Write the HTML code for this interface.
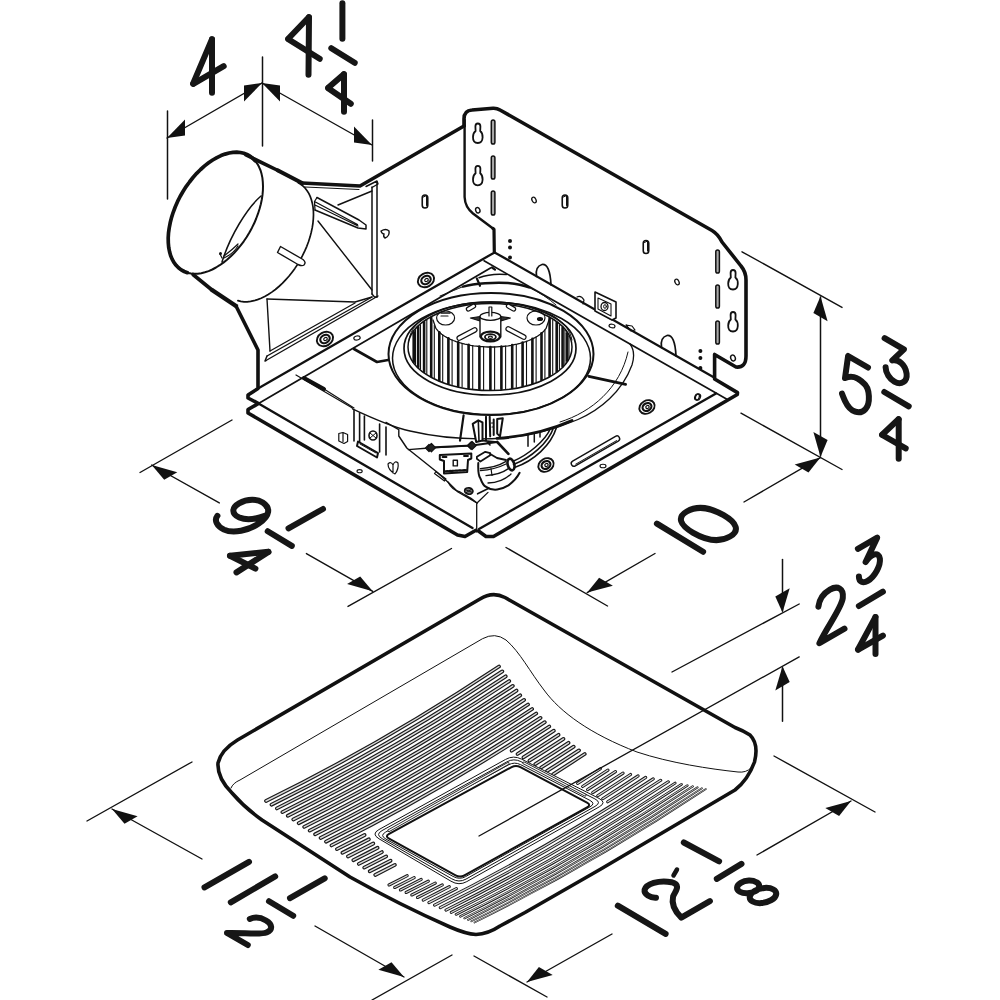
<!DOCTYPE html>
<html><head><meta charset="utf-8"><title>Fan dimensions</title>
<style>html,body{margin:0;padding:0;background:#fff;}svg{display:block;}</style></head>
<body><svg width="1000" height="1000" viewBox="0 0 1000 1000">
<rect width="1000" height="1000" fill="#fff"/>
<g stroke="#111" fill="none" stroke-linecap="round" stroke-linejoin="round">
<line x1="167.5" y1="111" x2="167.5" y2="199" stroke-width="1.5" />
<line x1="262.5" y1="57" x2="262.5" y2="146" stroke-width="1.5" />
<line x1="372.5" y1="120" x2="372.5" y2="161" stroke-width="1.5" />
<line x1="167" y1="138" x2="262" y2="83" stroke-width="1.4" />
<polygon points="167.0,138.0 185.0,135.6 185.0,119.6" fill="#111" stroke="none"/>
<polygon points="262.0,83.0 244.0,101.4 244.0,85.4" fill="#111" stroke="none"/>
<line x1="262" y1="83" x2="372" y2="145" stroke-width="1.4" />
<polygon points="262.0,83.0 280.0,101.4 280.0,85.4" fill="#111" stroke="none"/>
<polygon points="372.0,145.0 354.0,142.6 354.0,126.6" fill="#111" stroke="none"/>
<line x1="742" y1="251.8" x2="842" y2="307.4" stroke-width="1.4" />
<line x1="741" y1="413.2" x2="842" y2="469.5" stroke-width="1.4" />
<line x1="820.5" y1="297" x2="820.5" y2="456" stroke-width="1.5" />
<polygon points="820.5,296.2 827.6,321.3 813.4,313.1" fill="#111" stroke="none"/>
<polygon points="820.5,457.0 827.6,440.1 813.4,431.9" fill="#111" stroke="none"/>
<line x1="506" y1="547.5" x2="607.5" y2="606" stroke-width="1.4" />
<line x1="587.2" y1="592.6" x2="655" y2="553.5" stroke-width="1.4" />
<polygon points="587.2,592.6 612.9,585.8 599.1,577.8" fill="#111" stroke="none"/>
<line x1="744" y1="502" x2="820.4" y2="457.6" stroke-width="1.4" />
<polygon points="820.4,457.6 808.5,472.5 794.7,464.5" fill="#111" stroke="none"/>
<line x1="232" y1="420" x2="140" y2="472.5" stroke-width="1.4" />
<line x1="451.5" y1="548.5" x2="348" y2="606.4" stroke-width="1.4" />
<line x1="151.7" y1="465" x2="219.3" y2="502.9" stroke-width="1.4" />
<polygon points="151.7,465.0 177.3,472.2 164.2,479.8" fill="#111" stroke="none"/>
<line x1="306.4" y1="553.6" x2="372.7" y2="591.3" stroke-width="1.4" />
<polygon points="372.7,591.3 360.2,576.5 347.1,584.1" fill="#111" stroke="none"/>
<line x1="672" y1="672" x2="799.2" y2="604" stroke-width="1.4" />
<line x1="782.5" y1="559.6" x2="782.5" y2="611" stroke-width="1.5" />
<polygon points="782.5,612.4 789.7,588.2 775.3,596.5" fill="#111" stroke="none"/>
<line x1="782.5" y1="721.3" x2="782.5" y2="668" stroke-width="1.5" />
<polygon points="782.5,666.3 789.7,682.1 775.3,690.4" fill="#111" stroke="none"/>
<line x1="192" y1="762" x2="87" y2="821" stroke-width="1.4" />
<line x1="452" y1="955" x2="372" y2="1000" stroke-width="1.4" />
<line x1="112" y1="809" x2="202" y2="859" stroke-width="1.4" />
<polygon points="112.0,809.0 137.6,816.2 124.5,823.8" fill="#111" stroke="none"/>
<line x1="315" y1="926" x2="404" y2="977" stroke-width="1.4" />
<polygon points="404.0,977.0 391.5,962.2 378.4,969.8" fill="#111" stroke="none"/>
<line x1="774" y1="756" x2="875" y2="812" stroke-width="1.4" />
<line x1="474" y1="956" x2="547" y2="997" stroke-width="1.4" />
<line x1="851" y1="801" x2="757" y2="855" stroke-width="1.4" />
<polygon points="851.0,801.0 839.1,815.9 825.3,807.9" fill="#111" stroke="none"/>
<line x1="612" y1="934" x2="527" y2="982" stroke-width="1.4" />
<polygon points="527.0,982.0 552.7,975.1 538.9,967.1" fill="#111" stroke="none"/>
<path d="M298.2,182.8 L300.7,184.3 L303.1,186.1 L305.2,188.2 L307.1,190.7 L308.8,193.4 L310.2,196.4 L311.4,199.7 L312.3,203.2 L313.0,206.9 L313.4,210.8 L313.5,214.9 L313.3,219.1 L312.9,223.5 L312.2,227.9 L311.2,232.5 L310.0,237.1 L308.5,241.7 L306.8,246.3 L304.8,250.9 L302.6,255.4 L300.3,259.8 L297.7,264.2 L294.9,268.4 L291.9,272.4 L288.9,276.3 L285.6,279.9 L282.3,283.4 L278.9,286.5 L275.4,289.5 L271.8,292.1 L268.2,294.5 L264.7,296.5 L261.1,298.2 L257.5,299.6 L254.0,300.7 L250.6,301.4 L247.2,301.8 L244.0,301.8 L240.8,301.4 L237.9,300.7" stroke-width="1.7" fill="none" />
<path d="M248.8,155.4 L251.4,157.1 L253.7,159.2 L255.8,161.6 L257.7,164.3 L259.2,167.3 L260.6,170.5 L261.6,174.1 L262.4,177.9 L262.8,181.9 L263.0,186.1 L262.9,190.4 L262.5,194.9 L261.8,199.5 L260.8,204.2 L259.5,209.0 L258.0,213.7 L256.2,218.5 L254.2,223.3 L251.9,227.9 L249.4,232.5 L246.7,237.0 L243.8,241.3 L240.7,245.4 L237.4,249.3 L234.1,253.1 L230.6,256.5 L227.0,259.7 L223.4,262.6 L219.7,265.2 L216.0,267.5 L212.3,269.5 L208.6,271.1 L204.9,272.3 L201.3,273.2 L197.8,273.7 L194.4,273.8 L191.2,273.6 L188.0,272.9 L185.1,271.9 L182.3,270.6 L179.8,268.9 L177.5,266.8 L175.4,264.4 L173.5,261.7 L172.0,258.7 L170.6,255.5 L169.6,251.9 L168.8,248.1 L168.4,244.1 L168.2,239.9 L168.3,235.6 L168.7,231.1 L169.4,226.5 L170.4,221.8 L171.7,217.0 L173.2,212.3 L175.0,207.5 L177.0,202.7 L179.3,198.1 L181.8,193.5 L184.5,189.0 L187.4,184.7 L190.5,180.6 L193.8,176.7 L197.1,172.9 L200.6,169.5 L204.2,166.3 L207.8,163.4 L211.5,160.8 L215.2,158.5 L218.9,156.5 L222.6,154.9 L226.3,153.7 L229.9,152.8 L233.4,152.3 L236.8,152.2 L240.0,152.4 L243.2,153.1 L246.1,154.1 L248.8,155.4 Z" stroke-width="2.0" fill="#fff" />
<path d="M187.4,272.7 L184.2,271.5 L181.2,269.9 L178.5,267.8 L176.1,265.3 L173.9,262.4 L172.1,259.1 L170.6,255.5 L169.5,251.5 L168.7,247.3 L168.3,242.8 L168.2,238.0 L168.5,233.1 L169.2,228.0 L170.2,222.8 L171.5,217.6 L173.2,212.3 L175.2,207.0 L177.5,201.7 L180.1,196.5 L183.0,191.5 L186.1,186.6 L189.5,182.0 L193.0,177.5 L196.7,173.3 L200.6,169.5 L204.6,165.9 L208.6,162.8 L212.7,160.0 L216.9,157.6 L221.0,155.6 L225.1,154.1 L229.1,153.0 L233.0,152.4 L236.8,152.2 L240.4,152.5 L243.8,153.3 L247.0,154.5 L250.0,156.1 L252.7,158.2 L255.1,160.7" stroke-width="3.7" fill="none" />
<path d="M261,196 C247,208 230,236 222,262" stroke-width="1.5" fill="none" />
<path d="M220,254 l2,4 M224,256 q8,-6 14,-12 M224,258 q9,-4 14,-12" stroke-width="1.2" fill="none" />
<circle cx="220.5" cy="253.5" r="1.5" fill="#111" stroke="none"/>
<path d="M246,155 L278,170.5" stroke-width="3.6" fill="none" />
<path d="M278,170.5 L302,183" stroke-width="4.2" fill="none" />
<path d="M302,183 L360,186 L464,126" stroke-width="3.6" fill="none" />
<path d="M305,187 L359,189.5" stroke-width="1.1" fill="none" />
<path d="M193,274.5 L212,290" stroke-width="3.6" fill="none" />
<path d="M212,290 L236,306" stroke-width="4.4" fill="none" />
<path d="M236,306 L250,334 L258,350 L258,388.5 L248,395 L248,398 L258.5,403.5 L248,409.5 L248,413 L457.5,535 L465,536.5 L475.5,530.5" stroke-width="3.6" fill="none" />
<path d="M280.5,246.5 L303,259.5 q3.5,3 1,5.5 q-2,1.5 -6,-0.5 L277.5,252.5 Z" stroke-width="1.4" fill="#fff" />
<path d="M372,187 L372,294" stroke-width="1.5" fill="none" />
<path d="M377,182 L377,297" stroke-width="1.5" fill="none" />
<path d="M366,186.5 L377,181 L378,184 L372,187.5" stroke-width="1.4" fill="none" />
<path d="M372,294 L374.5,297 L377,297" stroke-width="1.4" fill="none" />
<line x1="372" y1="191" x2="338" y2="205" stroke-width="1.4" />
<line x1="318" y1="221" x2="372" y2="290" stroke-width="1.4" />
<path d="M267,299 L355,302 L372,297" stroke-width="1.4" fill="none" />
<line x1="267" y1="299" x2="270" y2="351" stroke-width="1.4" />
<path d="M267,356 L372,297" stroke-width="1.4" fill="none" />
<path d="M266,360.5 L378,296" stroke-width="1.4" fill="none" />
<path d="M270,351 L355,303" stroke-width="1.3" fill="none" />
<path d="M267,356 L265,361 L266,360.5" stroke-width="1.5" fill="none" />
<path d="M317,197.5 L359,220 L366,225 L366,229 L358,228 L315,210" stroke-width="1.5" fill="#fff" />
<path d="M317,197.5 l-2.5,4 l43,23 M315,205 l43,21 M314.5,201.5 l0.5,8.5" stroke-width="1.3" fill="none" />
<path d="M381,231 q5,-3 8,0 q1,5 -4,7 q-2,-1 -1,-4 q-2,0 -3,-3 Z" stroke-width="1.4" fill="none" />
<path d="M464,126 L464,119 Q464,110.5 472,110 L493,108.2 Q497,108 500,110 L712,230.5 Q718,234 722,242 L741,266 Q746,272 746,280 L746,356 Q746,368 736,367 L714.6,354.5 L714.6,379 L737.5,392.6 L737.3,394.5 L493.5,536.5 L486,536.5 L478.5,531" stroke-width="3.6" fill="none" />
<path d="M464.6,120 L464.6,197 Q465,207 473,213.5 L493,228.5" stroke-width="2.4" fill="none" />
<path d="M493,228.5 L494,229.5 L494.3,252" stroke-width="3.2" fill="none" />
<path d="M475.40000000000003,126.5 Q475.40000000000003,123.5 477.8,123.5 Q480.40000000000003,123.5 480.40000000000003,126.5 L480.2,131.0 Q482.8,133.0 482.6,137.5 Q482.3,143.0 477.8,143.0 Q472.8,143.0 473.0,137.0 Q473.0,133.0 475.6,131.0 Z" stroke-width="1.8" fill="#fff" />
<path d="M475.40000000000003,168.8 Q475.40000000000003,165.8 477.8,165.8 Q480.40000000000003,165.8 480.40000000000003,168.8 L480.2,173.3 Q482.8,175.3 482.6,179.8 Q482.3,185.3 477.8,185.3 Q472.8,185.3 473.0,179.3 Q473.0,175.3 475.6,173.3 Z" stroke-width="1.8" fill="#fff" />
<rect x="491.3" y="120.0" width="3.6" height="24" rx="1.8" transform="rotate(0 493.1 132.0)" stroke-width="1.5" fill="#aaa"/>
<rect x="491.3" y="156.0" width="3.6" height="23" rx="1.8" transform="rotate(0 493.1 167.5)" stroke-width="1.5" fill="#aaa"/>
<rect x="491.3" y="191.0" width="3.6" height="24" rx="1.8" transform="rotate(0 493.1 203.0)" stroke-width="1.5" fill="#aaa"/>
<ellipse cx="477.8" cy="210.3" rx="2.1" ry="2.8" transform="rotate(-20 477.8 210.3)" stroke-width="1.4" fill="none" />
<circle cx="510" cy="241" r="2.0" fill="#111" stroke="none"/>
<circle cx="510" cy="247.5" r="2.0" fill="#111" stroke="none"/>
<circle cx="510" cy="257.5" r="2.0" fill="#111" stroke="none"/>
<path d="M730.6,273 Q730.6,270 733,270 Q735.6,270 735.6,273 L735.4,277.5 Q738,279.5 737.8,284 Q737.5,289.5 733,289.5 Q728,289.5 728.2,283.5 Q728.2,279.5 730.8,277.5 Z" stroke-width="1.8" fill="#fff" />
<path d="M730.6,315 Q730.6,312 733,312 Q735.6,312 735.6,315 L735.4,319.5 Q738,321.5 737.8,326 Q737.5,331.5 733,331.5 Q728,331.5 728.2,325.5 Q728.2,321.5 730.8,319.5 Z" stroke-width="1.8" fill="#fff" />
<rect x="715.8000000000001" y="250.0" width="3.6" height="23" rx="1.8" transform="rotate(0 717.6 261.5)" stroke-width="1.5" fill="#aaa"/>
<rect x="715.8000000000001" y="285.0" width="3.6" height="23" rx="1.8" transform="rotate(0 717.6 296.5)" stroke-width="1.5" fill="#aaa"/>
<rect x="715.8000000000001" y="321.0" width="3.6" height="23" rx="1.8" transform="rotate(0 717.6 332.5)" stroke-width="1.5" fill="#aaa"/>
<ellipse cx="733" cy="358" rx="2.3" ry="3" transform="rotate(-20 733 358)" stroke-width="1.4" fill="none" />
<circle cx="700.4" cy="351" r="2.0" fill="#111" stroke="none"/>
<circle cx="700.4" cy="358" r="2.0" fill="#111" stroke="none"/>
<circle cx="700.4" cy="368" r="2.0" fill="#111" stroke="none"/>
<rect x="422.25" y="195.0" width="5.5" height="13" rx="2.75" transform="rotate(0 425 201.5)" stroke-width="1.6" fill="#fff"/>
<rect x="562.25" y="195.0" width="5.5" height="13" rx="2.75" transform="rotate(0 565 201.5)" stroke-width="1.6" fill="#fff"/>
<rect x="643.25" y="240.5" width="5.5" height="13" rx="2.75" transform="rotate(0 646 247)" stroke-width="1.6" fill="#fff"/>
<path d="M423.5,197 l3,-1.5 v10" stroke-width="1.0" fill="none" />
<path d="M563.5,197 l3,-1.5 v10" stroke-width="1.0" fill="none" />
<path d="M644.5,242.5 l3,-1.5 v10" stroke-width="1.0" fill="none" />
<ellipse cx="534" cy="200" rx="2" ry="3" transform="rotate(-25 534 200)" stroke-width="1.3" fill="none" />
<ellipse cx="677" cy="282" rx="2" ry="3" transform="rotate(-25 677 282)" stroke-width="1.3" fill="none" />
<ellipse cx="426" cy="280" rx="8.5" ry="6.800000000000001" transform="rotate(-30 426 280)" stroke-width="1.9" fill="#fff" />
<ellipse cx="426" cy="280" rx="4.93" ry="3.91" transform="rotate(-30 426 280)" stroke-width="2.2" fill="none" />
<ellipse cx="426.5" cy="280" rx="1.87" ry="1.53" transform="rotate(-30 426.5 280)" stroke-width="1.2" fill="none" />
<ellipse cx="325" cy="339" rx="8.5" ry="6.800000000000001" transform="rotate(-30 325 339)" stroke-width="1.9" fill="#fff" />
<ellipse cx="325" cy="339" rx="4.93" ry="3.91" transform="rotate(-30 325 339)" stroke-width="2.2" fill="none" />
<ellipse cx="325.5" cy="339" rx="1.87" ry="1.53" transform="rotate(-30 325.5 339)" stroke-width="1.2" fill="none" />
<ellipse cx="357" cy="338" rx="3.2" ry="2" transform="rotate(-10 357 338)" stroke-width="1.2" fill="none" />
<path d="M258,388.5 L494.6,252.4 L715,378" stroke-width="2.3" fill="none" />
<path d="M258.5,403.5 L490.5,268" stroke-width="1.7" fill="none" />
<path d="M484,260.8 L726.5,399" stroke-width="1.7" fill="none" />
<path d="M536.5,276.5 q-1.5,-10 5.5,-12 q8,-1 9,20.5" stroke-width="1.7" fill="none" />
<path d="M661.5,347.5 q-1.5,-10 5.5,-12 q8,-1 9,20.5" stroke-width="1.7" fill="none" />
<ellipse cx="697" cy="397" rx="2.2" ry="3.2" transform="rotate(20 697 397)" stroke-width="1.2" fill="none" />
<path d="M258.5,403.5 L472.5,528" stroke-width="2.4" fill="none" />
<line x1="476.7" y1="504" x2="476.7" y2="532" stroke-width="1.3" />
<path d="M479,529 L716,393.5" stroke-width="2.4" fill="none" />
<path d="M352.4,408.8 C372,418 392,427 410,431 C440,438 475,440 504,438 C530,436 556,429 578,419.5 C600,410 622,392 632,365 Q636,352 630,344" stroke-width="1.3" fill="none" />
<path d="M560,422 C592,412 620,388 628,352" stroke-width="1.0" fill="none" />
<path d="M497,438.4 C525,436.5 548,431 572,420.5" stroke-width="2.9" fill="none" />
<path d="M354,349 L377,362 L388,360" stroke-width="2.6" fill="none" />
<path d="M304,378 L324,389" stroke-width="4.0" fill="none" />
<path d="M324,389 L354,408" stroke-width="1.2" fill="none" />
<path d="M296,375 L352.4,408" stroke-width="1.2" fill="none" />
<path d="M386,422.4 L398.8,429.6 L398.8,436 L406.8,448 L435.6,471 L448.4,482.4 L458,492 L477,503" stroke-width="1.4" fill="none" />
<path d="M477,503 L488,492.4" stroke-width="1.3" fill="none" />
<path d="M408.4,449.6 L429,448 L470.8,445.6" stroke-width="1.4" fill="none" />
<path d="M425.5,448 l3.5,-3.5 l3.5,3.5 l-3.5,3.5 Z" stroke-width="1.2" fill="#333" />
<path d="M467.3,445.6 l3.5,-3.5 l3.5,3.5 l-3.5,3.5 Z" stroke-width="1.2" fill="#333" />
<ellipse cx="491" cy="354" rx="102.5" ry="61" transform="rotate(0 491 354)" stroke-width="2.0" fill="#fff" />
<ellipse cx="491.5" cy="358.3" rx="99" ry="56.3" transform="rotate(0 491.5 358.3)" stroke-width="1.5" fill="none" />
<path d="M588.8,376.4 L625.6,384.4" stroke-width="2.8" fill="none" />
<ellipse cx="490" cy="348.5" rx="86" ry="46.5" transform="rotate(0 490 348.5)" stroke-width="1.7" fill="#fff" />
<ellipse cx="490" cy="347" rx="82" ry="43.5" transform="rotate(0 490 347)" stroke-width="1.5" fill="none" />
<line x1="413.7" y1="332.1" x2="413.7" y2="361.9" stroke-width="2.6" />
<line x1="415.5" y1="329.8" x2="415.5" y2="364.2" stroke-width="1.1" />
<line x1="418.2" y1="327.0" x2="418.2" y2="367.0" stroke-width="2.6" />
<line x1="420.5" y1="324.9" x2="420.5" y2="369.1" stroke-width="1.1" />
<line x1="424.1" y1="322.1" x2="424.1" y2="371.9" stroke-width="2.6" />
<line x1="426.8" y1="320.3" x2="426.8" y2="373.7" stroke-width="1.1" />
<line x1="431.2" y1="317.7" x2="431.2" y2="376.3" stroke-width="2.6" />
<line x1="434.3" y1="325.6" x2="434.3" y2="377.9" stroke-width="1.1" />
<line x1="439.3" y1="332.3" x2="439.3" y2="380.2" stroke-width="2.6" />
<line x1="442.7" y1="335.0" x2="442.7" y2="381.5" stroke-width="1.1" />
<line x1="448.4" y1="338.3" x2="448.4" y2="383.5" stroke-width="2.6" />
<line x1="452.1" y1="340.0" x2="452.1" y2="384.6" stroke-width="1.1" />
<line x1="458.2" y1="342.3" x2="458.2" y2="386.1" stroke-width="2.6" />
<line x1="462.1" y1="343.4" x2="462.1" y2="386.9" stroke-width="1.1" />
<line x1="468.6" y1="344.9" x2="468.6" y2="388.0" stroke-width="2.6" />
<line x1="472.7" y1="345.6" x2="472.7" y2="388.5" stroke-width="1.1" />
<line x1="479.4" y1="346.5" x2="479.4" y2="389.1" stroke-width="2.6" />
<line x1="483.6" y1="346.8" x2="483.6" y2="389.4" stroke-width="1.1" />
<line x1="490.4" y1="347.0" x2="490.4" y2="389.5" stroke-width="2.6" />
<line x1="494.6" y1="346.9" x2="494.6" y2="389.4" stroke-width="1.1" />
<line x1="501.4" y1="346.6" x2="501.4" y2="389.1" stroke-width="2.6" />
<line x1="505.6" y1="346.1" x2="505.6" y2="388.7" stroke-width="1.1" />
<line x1="512.2" y1="345.1" x2="512.2" y2="387.9" stroke-width="2.6" />
<line x1="516.3" y1="344.3" x2="516.3" y2="387.2" stroke-width="1.1" />
<line x1="522.6" y1="342.6" x2="522.6" y2="385.9" stroke-width="2.6" />
<line x1="526.5" y1="341.3" x2="526.5" y2="385.0" stroke-width="1.1" />
<line x1="532.4" y1="338.9" x2="532.4" y2="383.2" stroke-width="2.6" />
<line x1="536.1" y1="337.0" x2="536.1" y2="382.0" stroke-width="1.1" />
<line x1="541.5" y1="333.3" x2="541.5" y2="379.9" stroke-width="2.6" />
<line x1="544.9" y1="330.0" x2="544.9" y2="378.3" stroke-width="1.1" />
<line x1="549.6" y1="318.1" x2="549.6" y2="375.9" stroke-width="2.6" />
<line x1="552.7" y1="320.0" x2="552.7" y2="374.0" stroke-width="1.1" />
<line x1="556.7" y1="322.7" x2="556.7" y2="371.3" stroke-width="2.6" />
<line x1="559.4" y1="324.8" x2="559.4" y2="369.2" stroke-width="1.1" />
<line x1="562.6" y1="327.7" x2="562.6" y2="366.3" stroke-width="2.6" />
<line x1="564.9" y1="330.3" x2="564.9" y2="363.7" stroke-width="1.1" />
<line x1="567.1" y1="333.2" x2="567.1" y2="360.8" stroke-width="2.6" />
<line x1="569.0" y1="336.3" x2="569.0" y2="357.7" stroke-width="1.1" />
<path d="M433.0,320.0 L435.9,328.4 L438.8,331.8 L441.7,334.2 L444.6,336.2 L447.5,337.9 L450.4,339.3 L453.3,340.5 L456.2,341.6 L459.1,342.5 L462.0,343.4 L464.9,344.1 L467.8,344.7 L470.7,345.3 L473.6,345.8 L476.5,346.1 L479.4,346.5 L482.3,346.7 L485.2,346.9 L488.1,347.0 L491.0,347.0 L493.9,347.0 L496.8,346.9 L499.7,346.7 L502.6,346.5 L505.5,346.1 L508.4,345.8 L511.3,345.3 L514.2,344.7 L517.1,344.1 L520.0,343.4 L522.9,342.5 L525.8,341.6 L528.7,340.5 L531.6,339.3 L534.5,337.9 L537.4,336.2 L540.3,334.2 L543.2,331.8 L546.1,328.4 L549.0,320.0" stroke-width="1.3" fill="none" />
<path d="M409,340 C412,318 440,304 490,302.5 C540,303 568,318 572,340" stroke-width="1.0" fill="none" />
<ellipse cx="445.6" cy="318" rx="9" ry="7" transform="rotate(0 445.6 318)" stroke-width="1.2" fill="none" />
<ellipse cx="536" cy="318" rx="9" ry="7" transform="rotate(0 536 318)" stroke-width="1.2" fill="none" />
<ellipse cx="540" cy="319" rx="2.5" ry="1.5" transform="rotate(0 540 319)" stroke-width="1.2" fill="#111" />
<path d="M441,313 L450,313" stroke-width="1.5" fill="none" />
<path d="M441,316 L448,316" stroke-width="1.2" fill="none" />
<rect x="469.0" y="302.6" width="4" height="10" rx="2.0" transform="rotate(60 471 307.6)" stroke-width="1.2" fill="#fff"/>
<rect x="509.0" y="302.6" width="4" height="10" rx="2.0" transform="rotate(-60 511 307.6)" stroke-width="1.2" fill="#fff"/>
<rect x="464.75" y="323.0" width="4.5" height="22" rx="2.25" transform="rotate(62 467 334)" stroke-width="1.2" fill="#fff"/>
<rect x="513.75" y="322.0" width="4.5" height="22" rx="2.25" transform="rotate(-62 516 333)" stroke-width="1.2" fill="#fff"/>
<path d="M470.4,318 l9.6,-1.5 v4.5 Z" stroke-width="1.2" fill="#333" />
<path d="M510.4,318 l-9.6,-1.5 v4.5 Z" stroke-width="1.2" fill="#333" />
<path d="M480,316.4 L480,337 Q490.4,345 500.8,337 L500.8,316.4" stroke-width="1.4" fill="#fff" />
<ellipse cx="490.4" cy="316.4" rx="10.4" ry="4" transform="rotate(0 490.4 316.4)" stroke-width="1.3" fill="#fff" />
<path d="M489,316 v-9 h2.8 v9" stroke-width="1.2" fill="#fff" />
<ellipse cx="490.4" cy="336.5" rx="9.5" ry="4.8" transform="rotate(0 490.4 336.5)" stroke-width="2.2" fill="#fff" />
<ellipse cx="490.4" cy="337" rx="5.5" ry="2.8" transform="rotate(0 490.4 337)" stroke-width="1.8" fill="none" />
<ellipse cx="490.4" cy="337.2" rx="2" ry="1.1" transform="rotate(0 490.4 337.2)" stroke-width="1.2" fill="none" />
<path d="M463,286.6 C475,283.5 495,282 508,283 C518,284 524,285.5 529,287.5" stroke-width="2.4" fill="none" />
<path d="M479,277.8 C486,275 498,273.8 506.5,274.5" stroke-width="1.5" fill="none" />
<path d="M476.8,278.4 L480,285.8" stroke-width="2.2" fill="none" />
<path d="M492,267.5 l3,2.2" stroke-width="2.2" fill="none" />
<path d="M440,296 Q455,290 463,286.6" stroke-width="1.0" fill="none" />
<path d="M529,287.5 Q545,295 556,305" stroke-width="1.0" fill="none" />
<path d="M595,292 L595,311 L612,320 L616,318 L616,302 Z" stroke-width="1.6" fill="#fff" />
<path d="M598,298 L598,309 L611,316 L611,304 Z" stroke-width="1.1" fill="none" />
<ellipse cx="604.5" cy="306.5" rx="3.5" ry="4" transform="rotate(0 604.5 306.5)" stroke-width="1.3" fill="none" />
<ellipse cx="605" cy="306.5" rx="1.4" ry="1.8" transform="rotate(0 605 306.5)" stroke-width="1.0" fill="none" />
<ellipse cx="612" cy="326" rx="3" ry="1.8" transform="rotate(10 612 326)" stroke-width="1.2" fill="none" />
<path d="M626,325 l6,1 l3,4 l-4,1 Z" stroke-width="1.2" fill="none" />
<path d="M577,297 q4,-2 7,3 l-1,4" stroke-width="1.2" fill="none" />
<ellipse cx="647" cy="407" rx="8" ry="6.4" transform="rotate(-30 647 407)" stroke-width="1.9" fill="#fff" />
<ellipse cx="647" cy="407" rx="4.64" ry="3.68" transform="rotate(-30 647 407)" stroke-width="2.2" fill="none" />
<ellipse cx="647.5" cy="407" rx="1.76" ry="1.44" transform="rotate(-30 647.5 407)" stroke-width="1.2" fill="none" />
<ellipse cx="546" cy="465" rx="8" ry="6.4" transform="rotate(-30 546 465)" stroke-width="1.9" fill="#fff" />
<ellipse cx="546" cy="465" rx="4.64" ry="3.68" transform="rotate(-30 546 465)" stroke-width="2.2" fill="none" />
<ellipse cx="546.5" cy="465" rx="1.76" ry="1.44" transform="rotate(-30 546.5 465)" stroke-width="1.2" fill="none" />
<rect x="568" y="448" width="55" height="5.5" rx="2.75" transform="rotate(-30 596 451)" stroke-width="1.4" fill="#fff"/>
<line x1="572" y1="452.3" x2="619" y2="452.3" transform="rotate(-30 596 451)" stroke-width="1.0"/>
<ellipse cx="698" cy="397" rx="2.4" ry="3.2" transform="rotate(25 698 397)" stroke-width="1.2" fill="none" />
<ellipse cx="603" cy="466" rx="3" ry="1.8" transform="rotate(0 603 466)" stroke-width="1.1" fill="none" />
<path d="M354,410.5 L354,441 M359.6,413 L359.6,444 M364.4,416 L364.4,440 M379.6,424 L379.6,452 M386,427 L386,455" stroke-width="1.6" fill="none" />
<path d="M358,441.5 L378,453 L377,457.5 L357,446 Z" stroke-width="2.0" fill="#fff" />
<path d="M360,444 L376,453" stroke-width="1.0" fill="none" />
<ellipse cx="373" cy="435.5" rx="4" ry="4.5" transform="rotate(0 373 435.5)" stroke-width="1.6" fill="none" />
<path d="M370,433 l6,5 M370,438 l6,-5" stroke-width="1.0" fill="none" />
<path d="M338.8,433.5 L338.8,441 L344,443.5 L347.6,441.5 L347.6,434.5 L343,432.5 Z M343,432.5 v9" stroke-width="1.2" fill="none" />
<path d="M388,464 q3,-3 5,1 q2,-5 5,-2 q1,6 -3,11 q-7,-4 -7,-10 Z M393,465 v8" stroke-width="1.2" fill="none" />
<ellipse cx="359.6" cy="471.2" rx="2.6" ry="1.6" transform="rotate(0 359.6 471.2)" stroke-width="1.1" fill="none" />
<path d="M439.8,455 L471.3,453.4 L471.3,458.5 L468,460 L467.2,472 L444,473.5 L444,461 L439.8,459.5 Z" stroke-width="2.0" fill="#fff" />
<path d="M445.5,471.3 L466,470" stroke-width="2.2" fill="none" stroke-dasharray="2 1.4"/>
<path d="M453.2,460.3 h4.2 v5.6 h-4.2 Z" stroke-width="1.4" fill="none" />
<path d="M442.5,457 h4 M464,456 h4" stroke-width="1.8" fill="none" />
<path d="M436,471.5 l10,7.5 l-1.5,2 l-10,-7.5 Z" stroke-width="1.2" fill="none" />
<path d="M463.6,415.4 L460,440.6" stroke-width="2.2" fill="none" />
<path d="M472.7,423.8 L478.3,420.3 L482.5,422.4 L482.5,440.6 L476.2,442 Z" stroke-width="2.0" fill="#fff" />
<path d="M478.3,420.8 L479,440.6" stroke-width="1.6" fill="none" />
<path d="M486,416.8 L486,440.6 M489.7,416.8 L490.2,436.4 M493.7,419.6 L493.7,435" stroke-width="2.0" fill="none" />
<path d="M497.2,418.9 L502.8,418.2 L500,436.4 L497.2,433.6 Z" stroke-width="2.0" fill="#fff" />
<path d="M491.5,423 l1.5,0 M492,427 l1.5,0" stroke-width="1.2" fill="none" />
<path d="M430,447.6 L472,445.5 L497.2,442" stroke-width="2.0" fill="none" />
<path d="M497.2,442 L508.4,453.9" stroke-width="2.6" fill="none" />
<path d="M482.5,440.6 L497.2,442 M486,440.6 L490,445" stroke-width="1.6" fill="none" />
<path d="M427.2,447.6 l4.2,-4.2 l4.2,4.2 l-4.2,4.2 Z" stroke-width="1.2" fill="#222" />
<path d="M467.8,445.5 l4.2,-4.2 l4.2,4.2 l-4.2,4.2 Z" stroke-width="1.2" fill="#222" />
<path d="M476.9,456.7 L485.3,451.8 L490.2,453.2 L490.2,455.3 L480.4,461.6 L476.9,458.8 Z" stroke-width="1.8" fill="#fff" />
<path d="M490.2,454 L497,458 L506,460" stroke-width="1.8" fill="none" />
<path d="M478.3,463 C478,470 478.5,476 480.4,478.4 C482,483 484,486 486,486.8 C490,489.5 494,490 497.2,489.6 C502,489 505,487.5 508.4,485.4 C513,482 517,478 519.6,472.8" stroke-width="2.0" fill="#fff" />
<path d="M480.4,468.6 C490,468 500,465 505.6,461.6 M480.4,470.5 C490,470 500,467 506,464" stroke-width="1.3" fill="none" />
<path d="M486,475.6 C495,475 503,472.5 508.4,468.6 M488,483 C497,483 506,479 511,474" stroke-width="1.3" fill="none" />
<path d="M491,468.5 l1,7" stroke-width="1.2" fill="none" />
<ellipse cx="511" cy="464.5" rx="3.3" ry="6" transform="rotate(-15 511 464.5)" stroke-width="2.6" fill="#fff" />
<path d="M512.6,461.5 C528,455 545,441 550.5,428.5 M513.5,464.5 C531,458 548,443 553.5,428 M514.5,467.5 C534,461 551,445 556.5,427.5" stroke-width="1.6" fill="none" />
<path d="M528,435 L528,446.2 M534.3,434 L534.3,442 M540,432.5 L540,437" stroke-width="1.5" fill="none" />
<ellipse cx="468.8" cy="491" rx="4.2" ry="3.2" transform="rotate(10 468.8 491)" stroke-width="1.6" fill="#777" />
<path d="M465,489.5 l7.5,3 M466,492.8 l5.5,-3.5" stroke-width="1.0" fill="none" />
<path d="M448,482 q4,8 12,10 l5,3 q6,3 12,8" stroke-width="1.4" fill="none" />
<path d="M477.6,493.8 L488.8,488.2" stroke-width="1.6" fill="none" />
<path d="M480,599 L237.5,740 Q221,750 218,763 Q217,778 232,793 Q245,808 262,820 L350,877 Q400,905 450,927 Q466,934 476,934.5 Q488,934 500,926 L525,912.5 L600,869.5 L735,790 Q748,780 754.5,762 Q759,744 750,735 Q744,731 735,727.5 L505,597.5 Q492.5,591 480,599 Z" stroke-width="3.6" fill="#fff" />
<path d="M231,788 Q233,783 240,780 L482.5,638.7 Q495,632 506,640 C520,652 530,672 544,690 C560,712 590,734 637,752 C670,763 710,769 738,772 Q746,773 751,768" stroke-width="1.0" fill="none" />
<path d="M266.0,801.0 Q382.5,743.7 499.0,666.5" stroke="#1a1a1a" stroke-width="3.80"/>
<path d="M266.0,801.0 Q382.5,743.7 499.0,666.5" stroke="#dcdcdc" stroke-width="1.44"/>
<path d="M271.5,804.7 Q386.9,747.8 502.3,671.4" stroke="#1a1a1a" stroke-width="3.80"/>
<path d="M271.5,804.7 Q386.9,747.8 502.3,671.4" stroke="#dcdcdc" stroke-width="1.44"/>
<path d="M276.9,808.4 Q391.3,751.9 505.7,676.3" stroke="#1a1a1a" stroke-width="3.80"/>
<path d="M276.9,808.4 Q391.3,751.9 505.7,676.3" stroke="#dcdcdc" stroke-width="1.44"/>
<path d="M282.4,812.1 Q395.8,756.0 509.2,681.1" stroke="#1a1a1a" stroke-width="3.80"/>
<path d="M282.4,812.1 Q395.8,756.0 509.2,681.1" stroke="#dcdcdc" stroke-width="1.44"/>
<path d="M287.8,815.8 Q400.3,760.1 512.8,685.9" stroke="#1a1a1a" stroke-width="3.80"/>
<path d="M287.8,815.8 Q400.3,760.1 512.8,685.9" stroke="#dcdcdc" stroke-width="1.44"/>
<path d="M293.3,819.5 Q404.9,764.2 516.5,690.6" stroke="#1a1a1a" stroke-width="3.80"/>
<path d="M293.3,819.5 Q404.9,764.2 516.5,690.6" stroke="#dcdcdc" stroke-width="1.44"/>
<path d="M298.7,823.2 Q409.5,768.2 520.2,695.3" stroke="#1a1a1a" stroke-width="3.80"/>
<path d="M298.7,823.2 Q409.5,768.2 520.2,695.3" stroke="#dcdcdc" stroke-width="1.44"/>
<path d="M304.2,826.9 Q414.1,772.3 524.1,699.9" stroke="#1a1a1a" stroke-width="3.80"/>
<path d="M304.2,826.9 Q414.1,772.3 524.1,699.9" stroke="#dcdcdc" stroke-width="1.44"/>
<path d="M309.7,830.6 Q418.8,776.3 528.0,704.5" stroke="#1a1a1a" stroke-width="3.80"/>
<path d="M309.7,830.6 Q418.8,776.3 528.0,704.5" stroke="#dcdcdc" stroke-width="1.44"/>
<path d="M315.1,834.3 Q423.6,780.3 532.1,709.0" stroke="#1a1a1a" stroke-width="3.80"/>
<path d="M315.1,834.3 Q423.6,780.3 532.1,709.0" stroke="#dcdcdc" stroke-width="1.44"/>
<path d="M320.6,838.0 Q428.4,784.2 536.2,713.5" stroke="#1a1a1a" stroke-width="3.80"/>
<path d="M320.6,838.0 Q428.4,784.2 536.2,713.5" stroke="#dcdcdc" stroke-width="1.44"/>
<path d="M326.0,841.7 Q433.3,788.2 540.5,717.9" stroke="#1a1a1a" stroke-width="3.80"/>
<path d="M326.0,841.7 Q433.3,788.2 540.5,717.9" stroke="#dcdcdc" stroke-width="1.44"/>
<path d="M331.5,845.4 Q438.2,792.1 544.8,722.2" stroke="#1a1a1a" stroke-width="3.80"/>
<path d="M331.5,845.4 Q438.2,792.1 544.8,722.2" stroke="#dcdcdc" stroke-width="1.44"/>
<path d="M336.9,849.1 Q350.8,842.2 364.6,835.0" stroke="#1a1a1a" stroke-width="3.80"/>
<path d="M336.9,849.1 Q350.8,842.2 364.6,835.0" stroke="#dcdcdc" stroke-width="1.44"/>
<path d="M511.6,750.7 Q530.4,738.8 549.3,726.5" stroke="#1a1a1a" stroke-width="3.80"/>
<path d="M511.6,750.7 Q530.4,738.8 549.3,726.5" stroke="#dcdcdc" stroke-width="1.44"/>
<path d="M342.4,852.8 Q355.7,846.2 368.9,839.3" stroke="#1a1a1a" stroke-width="3.80"/>
<path d="M342.4,852.8 Q355.7,846.2 368.9,839.3" stroke="#dcdcdc" stroke-width="1.44"/>
<path d="M517.5,754.0 Q535.7,742.6 553.9,730.7" stroke="#1a1a1a" stroke-width="3.80"/>
<path d="M517.5,754.0 Q535.7,742.6 553.9,730.7" stroke="#dcdcdc" stroke-width="1.44"/>
<path d="M347.9,856.5 Q360.6,850.1 373.3,843.5" stroke="#1a1a1a" stroke-width="3.80"/>
<path d="M347.9,856.5 Q360.6,850.1 373.3,843.5" stroke="#dcdcdc" stroke-width="1.44"/>
<path d="M523.4,757.4 Q541.0,746.3 558.6,734.8" stroke="#1a1a1a" stroke-width="3.80"/>
<path d="M523.4,757.4 Q541.0,746.3 558.6,734.8" stroke="#dcdcdc" stroke-width="1.44"/>
<path d="M353.3,860.2 Q365.5,854.1 377.6,847.8" stroke="#1a1a1a" stroke-width="3.80"/>
<path d="M353.3,860.2 Q365.5,854.1 377.6,847.8" stroke="#dcdcdc" stroke-width="1.44"/>
<path d="M529.4,760.7 Q546.4,750.0 563.5,738.9" stroke="#1a1a1a" stroke-width="3.80"/>
<path d="M529.4,760.7 Q546.4,750.0 563.5,738.9" stroke="#dcdcdc" stroke-width="1.44"/>
<path d="M358.8,863.9 Q370.3,858.1 381.9,852.1" stroke="#1a1a1a" stroke-width="3.80"/>
<path d="M358.8,863.9 Q370.3,858.1 381.9,852.1" stroke="#dcdcdc" stroke-width="1.44"/>
<path d="M535.3,764.1 Q551.9,753.7 568.5,742.8" stroke="#1a1a1a" stroke-width="3.80"/>
<path d="M535.3,764.1 Q551.9,753.7 568.5,742.8" stroke="#dcdcdc" stroke-width="1.44"/>
<path d="M364.2,867.6 Q375.2,862.1 386.2,856.4" stroke="#1a1a1a" stroke-width="3.80"/>
<path d="M364.2,867.6 Q375.2,862.1 386.2,856.4" stroke="#dcdcdc" stroke-width="1.44"/>
<path d="M541.2,767.5 Q557.4,757.3 573.7,746.7" stroke="#1a1a1a" stroke-width="3.80"/>
<path d="M541.2,767.5 Q557.4,757.3 573.7,746.7" stroke="#dcdcdc" stroke-width="1.44"/>
<path d="M369.7,871.3 Q380.1,866.1 390.6,860.7" stroke="#1a1a1a" stroke-width="3.80"/>
<path d="M369.7,871.3 Q380.1,866.1 390.6,860.7" stroke="#dcdcdc" stroke-width="1.44"/>
<path d="M547.1,770.9 Q563.1,760.8 579.0,750.4" stroke="#1a1a1a" stroke-width="3.80"/>
<path d="M547.1,770.9 Q563.1,760.8 579.0,750.4" stroke="#dcdcdc" stroke-width="1.44"/>
<path d="M375.2,875.0 Q385.0,870.0 394.9,864.9" stroke="#1a1a1a" stroke-width="3.80"/>
<path d="M375.2,875.0 Q385.0,870.0 394.9,864.9" stroke="#dcdcdc" stroke-width="1.44"/>
<path d="M553.1,774.3 Q568.9,764.3 584.7,754.0" stroke="#1a1a1a" stroke-width="3.80"/>
<path d="M553.1,774.3 Q568.9,764.3 584.7,754.0" stroke="#dcdcdc" stroke-width="1.44"/>
<path d="M389.0,885.0 Q398.1,880.4 407.2,875.7" stroke="#1a1a1a" stroke-width="3.11"/>
<path d="M389.0,885.0 Q398.1,880.4 407.2,875.7" stroke="#dcdcdc" stroke-width="1.18"/>
<path d="M394.7,887.5 Q404.4,882.6 414.2,877.6" stroke="#1a1a1a" stroke-width="3.11"/>
<path d="M394.7,887.5 Q404.4,882.6 414.2,877.6" stroke="#dcdcdc" stroke-width="1.18"/>
<path d="M577.6,783.4 Q589.0,776.2 600.4,768.7" stroke="#1a1a1a" stroke-width="3.11"/>
<path d="M577.6,783.4 Q589.0,776.2 600.4,768.7" stroke="#dcdcdc" stroke-width="1.18"/>
<path d="M400.4,890.0 Q410.8,884.8 421.2,879.4" stroke="#1a1a1a" stroke-width="3.11"/>
<path d="M400.4,890.0 Q410.8,884.8 421.2,879.4" stroke="#dcdcdc" stroke-width="1.18"/>
<path d="M582.6,786.5 Q595.3,778.4 608.0,770.1" stroke="#1a1a1a" stroke-width="3.11"/>
<path d="M582.6,786.5 Q595.3,778.4 608.0,770.1" stroke="#dcdcdc" stroke-width="1.18"/>
<path d="M406.1,892.5 Q417.2,887.0 428.3,881.2" stroke="#1a1a1a" stroke-width="3.11"/>
<path d="M406.1,892.5 Q417.2,887.0 428.3,881.2" stroke="#dcdcdc" stroke-width="1.18"/>
<path d="M587.6,789.6 Q601.6,780.7 615.5,771.6" stroke="#1a1a1a" stroke-width="3.11"/>
<path d="M587.6,789.6 Q601.6,780.7 615.5,771.6" stroke="#dcdcdc" stroke-width="1.18"/>
<path d="M411.8,895.0 Q423.5,889.2 435.3,883.1" stroke="#1a1a1a" stroke-width="3.11"/>
<path d="M411.8,895.0 Q423.5,889.2 435.3,883.1" stroke="#dcdcdc" stroke-width="1.18"/>
<path d="M592.7,792.6 Q607.9,783.0 623.1,773.1" stroke="#1a1a1a" stroke-width="3.11"/>
<path d="M592.7,792.6 Q607.9,783.0 623.1,773.1" stroke="#dcdcdc" stroke-width="1.18"/>
<path d="M417.5,897.5 Q429.9,891.3 442.3,884.9" stroke="#1a1a1a" stroke-width="3.11"/>
<path d="M417.5,897.5 Q429.9,891.3 442.3,884.9" stroke="#dcdcdc" stroke-width="1.18"/>
<path d="M597.7,795.7 Q614.1,785.3 630.6,774.5" stroke="#1a1a1a" stroke-width="3.11"/>
<path d="M597.7,795.7 Q614.1,785.3 630.6,774.5" stroke="#dcdcdc" stroke-width="1.18"/>
<path d="M423.2,900.1 Q436.3,893.5 449.3,886.7" stroke="#1a1a1a" stroke-width="3.11"/>
<path d="M423.2,900.1 Q436.3,893.5 449.3,886.7" stroke="#dcdcdc" stroke-width="1.18"/>
<path d="M602.7,798.7 Q620.4,787.6 638.1,775.9" stroke="#1a1a1a" stroke-width="3.11"/>
<path d="M602.7,798.7 Q620.4,787.6 638.1,775.9" stroke="#dcdcdc" stroke-width="1.18"/>
<path d="M428.9,902.6 Q442.6,895.7 456.4,888.6" stroke="#1a1a1a" stroke-width="3.11"/>
<path d="M428.9,902.6 Q442.6,895.7 456.4,888.6" stroke="#dcdcdc" stroke-width="1.18"/>
<path d="M607.7,801.8 Q626.7,789.9 645.7,777.4" stroke="#1a1a1a" stroke-width="3.11"/>
<path d="M607.7,801.8 Q626.7,789.9 645.7,777.4" stroke="#dcdcdc" stroke-width="1.18"/>
<path d="M434.6,905.1 Q543.9,850.7 653.2,778.9" stroke="#1a1a1a" stroke-width="3.11"/>
<path d="M434.6,905.1 Q543.9,850.7 653.2,778.9" stroke="#dcdcdc" stroke-width="1.18"/>
<path d="M440.3,907.6 Q550.5,852.8 660.7,780.3" stroke="#1a1a1a" stroke-width="3.11"/>
<path d="M440.3,907.6 Q550.5,852.8 660.7,780.3" stroke="#dcdcdc" stroke-width="1.18"/>
<path d="M446.0,910.1 Q557.1,855.0 668.3,781.8" stroke="#1a1a1a" stroke-width="3.11"/>
<path d="M446.0,910.1 Q557.1,855.0 668.3,781.8" stroke="#dcdcdc" stroke-width="1.18"/>
<path d="M451.2,912.4 Q563.2,856.9 675.1,783.1" stroke="#1a1a1a" stroke-width="2.85"/>
<path d="M451.2,912.4 Q563.2,856.9 675.1,783.1" stroke="#dcdcdc" stroke-width="1.08"/>
<path d="M456.0,914.5 Q568.8,858.7 681.5,784.3" stroke="#1a1a1a" stroke-width="2.63"/>
<path d="M456.0,914.5 Q568.8,858.7 681.5,784.3" stroke="#dcdcdc" stroke-width="1.00"/>
<path d="M460.4,916.4 Q573.9,860.4 687.4,785.4" stroke="#1a1a1a" stroke-width="2.42"/>
<path d="M460.4,916.4 Q573.9,860.4 687.4,785.4" stroke="#dcdcdc" stroke-width="0.92"/>
<path d="M464.5,918.2 Q578.6,861.9 692.7,786.4" stroke="#1a1a1a" stroke-width="2.20"/>
<path d="M464.5,918.2 Q578.6,861.9 692.7,786.4" stroke="#dcdcdc" stroke-width="0.84"/>
<path d="M468.1,919.8 Q582.8,863.2 697.5,787.4" stroke="#1a1a1a" stroke-width="1.99"/>
<path d="M468.1,919.8 Q582.8,863.2 697.5,787.4" stroke="#dcdcdc" stroke-width="0.75"/>
<path d="M471.4,921.3 Q586.7,864.5 701.9,788.2" stroke="#1a1a1a" stroke-width="1.83"/>
<path d="M471.4,921.3 Q586.7,864.5 701.9,788.2" stroke="#dcdcdc" stroke-width="0.69"/>
<path d="M474.5,922.6 Q590.2,865.6 705.9,789.0" stroke="#1a1a1a" stroke-width="1.66"/>
<path d="M474.5,922.6 Q590.2,865.6 705.9,789.0" stroke="#dcdcdc" stroke-width="0.63"/>
<path d="M378.7,838.6 Q371.0,834.0 378.9,829.6 L505.6,759.4 Q513.5,755.0 521.5,759.1 L599.0,798.4 Q607.0,802.5 599.2,806.9 L466.8,881.6 Q459.0,886.0 451.3,881.4 Z" stroke-width="1.0" fill="#fff" />
<path d="M381.9,838.5 Q375.0,834.5 382.0,830.6 L506.8,761.9 Q513.8,758.0 520.9,761.6 L594.9,798.9 Q602.0,802.5 595.0,806.4 L466.0,879.1 Q459.0,883.0 452.1,879.0 Z" stroke-width="1.0" fill="none" />
<path d="M385.6,838.9 Q379.5,835.5 385.6,832.1 L508.4,764.9 Q514.5,761.5 520.7,764.7 L589.8,800.3 Q596.0,803.5 589.9,806.9 L465.6,876.6 Q459.5,880.0 453.4,876.6 Z" stroke-width="1.0" fill="none" />
<path d="M389.1,838.6 Q384.7,836.2 389.1,833.8 L511.6,767.1 Q516.0,764.7 520.4,767.1 L587.0,802.6 Q591.4,805.0 587.0,807.4 L464.4,875.4 Q460.0,877.8 455.6,875.4 Z" stroke-width="2.0" fill="none" />
<path d="M389,830.5 L508,763.5" stroke-width="3.0" fill="none" stroke="#222"/>
<path d="M389,830.5 L508,763.5" stroke-width="1.4" fill="none" stroke="#fff"/>
<path d="M524,763 L585,795" stroke-width="3.0" fill="none" stroke="#222"/>
<path d="M524,763 L585,795" stroke-width="1.4" fill="none" stroke="#fff"/>
<line x1="479" y1="836" x2="799.2" y2="656.9" stroke-width="1.3" />
<line x1="212.0" y1="39.3" x2="212.0" y2="92.7" stroke-width="6.0" stroke="#161616"/>
<line x1="211.9" y1="39.3" x2="193.1" y2="83.7" stroke-width="6.0" stroke="#161616"/>
<line x1="193.3" y1="83.8" x2="223.7" y2="66.2" stroke-width="6.0" stroke="#161616"/>
<line x1="309.0" y1="17.3" x2="308.5" y2="74.7" stroke-width="6.0" stroke="#161616"/>
<line x1="308.8" y1="17.2" x2="288.2" y2="38.8" stroke-width="6.0" stroke="#161616"/>
<line x1="288.3" y1="39.2" x2="319.7" y2="58.8" stroke-width="6.0" stroke="#161616"/>
<line x1="342.4" y1="3.3" x2="342.4" y2="38.7" stroke-width="6.0" stroke="#161616"/>
<line x1="331.3" y1="48.2" x2="354.7" y2="62.8" stroke-width="6.0" stroke="#161616"/>
<line x1="344.0" y1="74.3" x2="344.0" y2="111.7" stroke-width="6.0" stroke="#161616"/>
<line x1="343.8" y1="74.2" x2="328.2" y2="87.8" stroke-width="6.0" stroke="#161616"/>
<line x1="328.2" y1="88.2" x2="350.8" y2="103.8" stroke-width="6.0" stroke="#161616"/>
<path d="M868.0,367.5 L848.1,356.0 L845.0,378.1 C850.3,375.5 857.2,376.3 863.6,383.2 C870.3,388.6 870.3,403.6 865.6,408.9 C860.0,415.3 850.3,412.4 845.3,401.5 C843.7,397.9 842.6,395.6 842.0,393.7 " stroke-width="6.0" stroke="#161616"/>
<path d="M884.6,338.2 L903.9,349.4 L892.3,360.4 C898.1,358.9 905.4,364.6 906.6,373.6 C907.5,381.6 901.2,385.6 894.4,381.6 C889.8,379.0 885.6,372.8 885.6,367.2 " stroke-width="6.0" stroke="#161616"/>
<line x1="884.3" y1="392.0" x2="908.7" y2="406.3" stroke-width="6.0" stroke="#161616"/>
<line x1="898.7" y1="419.3" x2="898.7" y2="458.7" stroke-width="6.0" stroke="#161616"/>
<line x1="898.5" y1="419.2" x2="882.1" y2="434.7" stroke-width="6.0" stroke="#161616"/>
<line x1="882.2" y1="435.0" x2="905.7" y2="448.4" stroke-width="6.0" stroke="#161616"/>
<line x1="656.9" y1="523.6" x2="703.1" y2="551.8" stroke-width="6.0" stroke="#161616"/>
<path d="M730.0,536.5 C739.7,530.9 737.4,523.2 723.6,515.2 C709.7,507.2 696.4,505.9 686.8,511.5 C677.1,517.1 679.4,524.8 693.2,532.8 C707.1,540.8 720.4,542.1 730.0,536.5 Z" stroke-width="6.0" stroke="#161616"/>
<path d="M265.5,515.6 C255.6,519.3 245.8,520.2 239.4,517.5 C231.6,514.0 231.2,507.8 239.0,503.3 C247.7,498.3 257.6,499.0 262.7,502.4 C270.6,507.5 270.6,515.5 258.7,523.6 C248.7,530.4 233.2,533.9 224.0,529.6 C216.6,525.8 214.0,520.3 217.4,515.8 " stroke-width="6.0" stroke="#161616"/>
<line x1="288.5" y1="528.3" x2="323.0" y2="509.0" stroke-width="6.0" stroke="#161616"/>
<line x1="267.7" y1="531.2" x2="291.8" y2="545.9" stroke-width="6.0" stroke="#161616"/>
<line x1="236.5" y1="572.4" x2="268.4" y2="552.0" stroke-width="6.0" stroke="#161616"/>
<line x1="268.4" y1="551.8" x2="230.0" y2="555.7" stroke-width="6.0" stroke="#161616"/>
<line x1="230.0" y1="555.8" x2="255.4" y2="568.6" stroke-width="6.0" stroke="#161616"/>
<path d="M818.4,606.7 C819.4,598.1 824.4,592.8 829.9,589.6 C837.5,585.3 843.8,588.3 842.8,597.9 C842.0,607.4 826.9,627.0 819.4,643.2 L844.5,628.7 " stroke-width="6.0" stroke="#161616"/>
<path d="M857.9,548.8 L877.2,537.6 L865.6,562.1 C871.4,553.8 878.7,551.1 879.9,558.7 C880.8,565.8 874.5,576.9 867.7,580.9 C863.1,583.5 858.9,582.1 858.9,576.5 " stroke-width="6.0" stroke="#161616"/>
<line x1="858.9" y1="606.0" x2="882.9" y2="591.7" stroke-width="6.0" stroke="#161616"/>
<line x1="875.5" y1="617.1" x2="875.5" y2="653.9" stroke-width="6.0" stroke="#161616"/>
<line x1="875.4" y1="617.1" x2="858.0" y2="649.5" stroke-width="6.0" stroke="#161616"/>
<line x1="858.2" y1="649.7" x2="882.9" y2="635.6" stroke-width="6.0" stroke="#161616"/>
<line x1="204.5" y1="887.4" x2="249.0" y2="861.8" stroke-width="6.0" stroke="#161616"/>
<line x1="230.8" y1="902.3" x2="275.2" y2="876.4" stroke-width="6.0" stroke="#161616"/>
<line x1="290.0" y1="898.2" x2="324.7" y2="878.3" stroke-width="6.0" stroke="#161616"/>
<line x1="269.0" y1="901.2" x2="293.2" y2="915.8" stroke-width="6.0" stroke="#161616"/>
<path d="M249.8,918.9 C255.8,916.4 261.5,917.9 266.0,920.5 C272.3,924.1 273.2,929.6 266.6,932.4 C260.3,935.4 240.8,932.2 227.0,933.0 L247.8,945.0 " stroke-width="6.0" stroke="#161616"/>
<line x1="617.8" y1="905.7" x2="665.6" y2="933.9" stroke-width="6.0" stroke="#161616"/>
<path d="M656.0,897.7 C650.3,898.0 643.8,894.3 644.6,889.8 C646.0,884.0 658.6,879.7 671.5,882.2 C681.7,884.9 675.3,891.1 673.1,896.4 C671.7,902.1 673.3,909.7 681.3,917.6 L709.9,901.1 " stroke-width="6.0" stroke="#161616"/>
<line x1="677.0" y1="869.5" x2="673.5" y2="875.5" stroke-width="4.5" stroke="#161616"/>
<line x1="683.8" y1="842.5" x2="719.1" y2="861.4" stroke-width="6.0" stroke="#161616"/>
<line x1="716.8" y1="878.9" x2="741.5" y2="863.9" stroke-width="6.0" stroke="#161616"/>
<path d="M755.4,891.1 C760.0,888.5 760.5,884.5 756.4,882.2 C752.4,879.8 745.4,880.1 740.8,882.8 C736.3,885.4 735.8,889.4 739.8,891.8 C743.8,894.1 750.8,893.8 755.4,891.1 ZM771.2,900.2 C776.9,896.9 777.9,892.1 773.4,889.5 C768.8,886.9 760.5,887.5 754.8,890.8 C749.0,894.1 748.1,898.9 752.6,901.5 C757.1,904.1 765.4,903.6 771.2,900.2 Z" stroke-width="6.0" stroke="#161616"/>
</g></svg></body></html>
